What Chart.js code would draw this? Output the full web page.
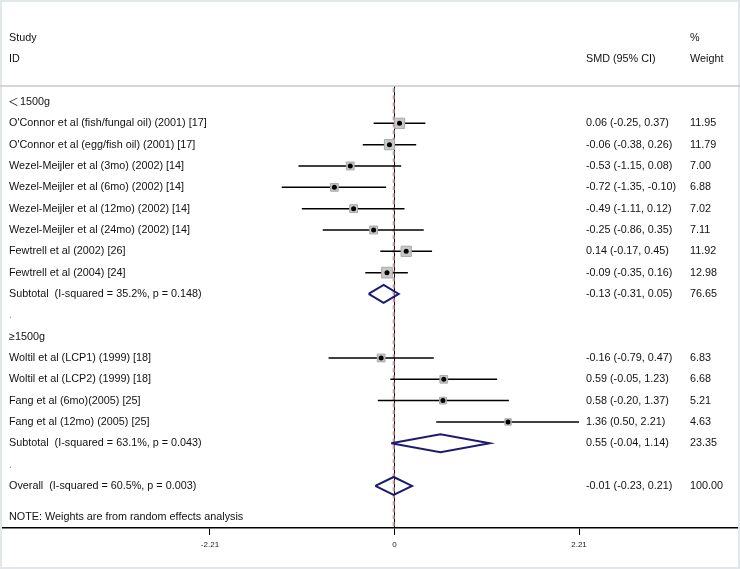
<!DOCTYPE html>
<html><head><meta charset="utf-8">
<script src="https://cdn.jsdelivr.net/npm/chart.js@4.4.1/dist/chart.umd.min.js"></script>
<style>html,body{margin:0;padding:0;background:#fff;}#wrap{width:740px;height:569px;position:relative;}</style>
</head><body><div id="wrap"><canvas id="c" width="740" height="569"></canvas></div>
<script>
// ---- data ----
const studyLabels = [
  "O'Connor et al (fish/fungal oil) (2001) [17]",
  "O'Connor et al (egg/fish oil) (2001) [17]",
  "Wezel-Meijler et al (3mo) (2002) [14]",
  "Wezel-Meijler et al (6mo) (2002) [14]",
  "Wezel-Meijler et al (12mo) (2002) [14]",
  "Wezel-Meijler et al (24mo) (2002) [14]",
  "Fewtrell et al (2002) [26]",
  "Fewtrell et al (2004) [24]",
  "Woltil et al (LCP1) (1999) [18]",
  "Woltil et al (LCP2) (1999) [18]",
  "Fang et al (6mo)(2005) [25]",
  "Fang et al (12mo) (2005) [25]"
];
const studyRows = [1,2,3,4,5,6,7,8,12,13,14,15];
const studyEst = [0.06,-0.06,-0.53,-0.72,-0.49,-0.25,0.14,-0.09,-0.16,0.59,0.58,1.36];
const studyLo = [-0.25,-0.38,-1.15,-1.35,-1.11,-0.86,-0.17,-0.35,-0.79,-0.05,-0.20,0.50];
const studyHi = [0.37,0.26,0.08,-0.10,0.12,0.35,0.45,0.16,0.47,1.23,1.37,2.21];
const studyWeight = [11.95,11.79,7.00,6.88,7.02,7.11,11.92,12.98,6.83,6.68,5.21,4.63];

const poolLabels = [
  "Subtotal  (I-squared = 35.2%, p = 0.148)",
  "Subtotal  (I-squared = 63.1%, p = 0.043)",
  "Overall  (I-squared = 60.5%, p = 0.003)"
];
const poolRows = [9,16,18];
const poolEst = [-0.13,0.55,-0.01];
const poolLo = [-0.31,-0.04,-0.23];
const poolHi = [0.05,1.14,0.21];
const poolWeight = [76.65,23.35,100.00];

const groupLabels = ["\uFF1C1500g","\u22651500g"];
const groupRows = [0,11];
const spacerRows = [10,17];
const headerRows = [-3,-2];
const xTicks = [-2.21,0,2.21];
const overallEst = -0.01;
const noteText = "NOTE: Weights are from random effects analysis";
const noteRow = 19.47;
const sepRow = -0.75;

// ---- layout constants ----
const Y_MIN = -4.782, Y_MAX = 19.972;
const X_MIN = -4.725, X_MAX = 4.138;
const FONT = "10.8px 'Liberation Sans', Arial, 'Noto Sans CJK SC', sans-serif";
const GROUP_FONT = "10.8px 'Noto Sans CJK SC', 'Liberation Sans', sans-serif";

function fmt(v){ return v.toFixed(2); }
function ciText(e,l,h){ return fmt(e)+" ("+fmt(l)+", "+fmt(h)+")"; }

const datasets = [];
// center dots (top)
datasets.push({
  data: studyEst.map((e,i)=>({x:e,y:studyRows[i]})),
  pointStyle:'circle', pointRadius:2.5, pointBackgroundColor:'#000', pointBorderWidth:0, order:0
});
// weight squares
datasets.push({
  data: studyEst.map((e,i)=>({x:e,y:studyRows[i]})),
  pointStyle:'rect', pointRadius: studyWeight.map(w=>2.1*Math.sqrt(w)),
  pointBackgroundColor:'#c8c8c8', pointBorderColor:'#a8a8a8', pointBorderWidth:1, order:1
});
// CI lines
studyEst.forEach((e,i)=>{
  datasets.push({
    data:[{x:studyLo[i],y:studyRows[i]},{x:studyHi[i],y:studyRows[i]}],
    showLine:true, borderColor:'#000', borderWidth:1.5, pointRadius:0, order:2
  });
});
// diamonds
poolEst.forEach((e,i)=>{
  const r = poolRows[i];
  datasets.push({
    data:[{x:poolLo[i],y:r},{x:e,y:r-0.42},{x:poolHi[i],y:r},{x:e,y:r+0.42},{x:poolLo[i],y:r}],
    showLine:true, borderColor:'#1c1c6e', borderWidth:2, pointRadius:0, fill:false, order:2
  });
});
// reference lines
datasets.push({
  data:[{x:overallEst,y:sepRow+0.1},{x:overallEst,y:Y_MAX}],
  showLine:true, borderColor:'#cf9ea2', borderWidth:2, borderDash:[4,3], pointRadius:0, order:3
});
datasets.push({
  data:[{x:0,y:sepRow},{x:0,y:Y_MAX}],
  showLine:true, borderColor:'#000', borderWidth:1, pointRadius:0, order:4
});

const textPlugin = {
  id:'forestText',
  afterDraw(chart){
    const ctx = chart.ctx, ys = chart.scales.y;
    const Y = r => ys.getPixelForValue(r);
    ctx.save();
    // frame
    ctx.strokeStyle = '#e2e8ea'; ctx.lineWidth = 2;
    ctx.strokeRect(1,1,738,567);
    // separator
    ctx.strokeStyle = '#c8c8c8'; ctx.lineWidth = 1.5;
    ctx.beginPath(); ctx.moveTo(0,Y(sepRow)); ctx.lineTo(740,Y(sepRow)); ctx.stroke();

    ctx.font = FONT; ctx.fillStyle = '#111'; ctx.textBaseline = 'middle'; ctx.textAlign='left';
    const LX = 9, CX = 586, WX = 690;
    ctx.fillText("Study", LX, Y(headerRows[0]));
    ctx.fillText("ID", LX, Y(headerRows[1]));
    ctx.fillText("%", WX, Y(headerRows[0]));
    ctx.fillText("Weight", WX, Y(headerRows[1]));
    ctx.fillText("SMD (95% CI)", CX, Y(headerRows[1]));
    studyLabels.forEach((s,i)=>{
      const y = Y(studyRows[i]);
      ctx.fillText(s, LX, y);
      ctx.fillText(ciText(studyEst[i],studyLo[i],studyHi[i]), CX, y);
      ctx.fillText(fmt(studyWeight[i]), WX, y);
    });
    poolLabels.forEach((s,i)=>{
      const y = Y(poolRows[i]);
      ctx.fillText(s, LX, y);
      ctx.fillText(ciText(poolEst[i],poolLo[i],poolHi[i]), CX, y);
      ctx.fillText(fmt(poolWeight[i]), WX, y);
    });
    ctx.fillText(noteText, LX, Y(noteRow));
    // group labels: first uses full-width '<'
    ctx.font = GROUP_FONT;
    ctx.fillText(groupLabels[0].charAt(0), LX - 1, Y(groupRows[0]));
    ctx.font = FONT;
    ctx.fillText(groupLabels[0].slice(1), LX + 11, Y(groupRows[0]));
    ctx.fillText(groupLabels[1], LX, Y(groupRows[1]));
    ctx.fillStyle = '#999';
    spacerRows.forEach(r=>ctx.fillText(".", LX, Y(r)));
    ctx.restore();
  }
};

new Chart(document.getElementById('c'), {
  type:'scatter',
  data:{datasets},
  options:{
    responsive:false, animation:false, devicePixelRatio:1, events:[],
    layout:{padding:0, autoPadding:false},
    plugins:{legend:{display:false}, tooltip:{enabled:false}},
    scales:{
      x:{
        type:'linear', min:X_MIN, max:X_MAX,
        afterBuildTicks(s){ s.ticks = xTicks.map(v=>({value:v})); },
        afterFit(s){ s.height = 41; },
        ticks:{ font:{size:8, family:"'Liberation Sans', Arial, sans-serif"}, color:'#222', padding:5, maxRotation:0,
          callback:(v)=> String(v) },
        grid:{ display:true, drawOnChartArea:false, drawTicks:true, tickLength:7, tickColor:'#000', tickWidth:1 },
        border:{ display:true, color:'#000', width:1.5 }
      },
      y:{ type:'linear', display:false, reverse:true, min:Y_MIN, max:Y_MAX }
    }
  },
  plugins:[textPlugin]
});
</script>
</body></html>
